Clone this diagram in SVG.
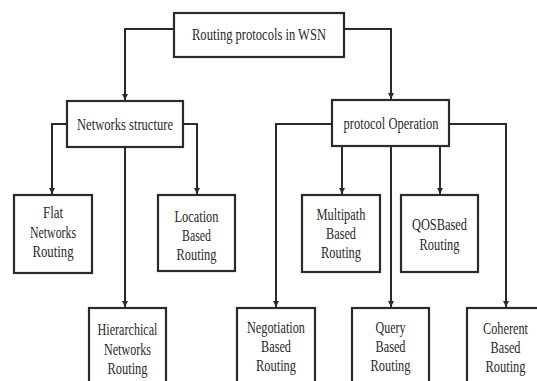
<svg xmlns="http://www.w3.org/2000/svg" width="537" height="381" viewBox="0 0 537 381">
<style>
.box{fill:#fff;stroke:#2a2a2a;stroke-width:2.2}
.lbl{font-family:"Liberation Serif","Times New Roman",serif;font-size:16.5px;fill:#2a2a2a;text-anchor:middle}
.conn path{fill:none;stroke:#2a2a2a;stroke-width:2;marker-end:url(#arr)}
</style>
<defs>
<marker id="arr" viewBox="0 0 10 10" refX="10" refY="5" markerWidth="3" markerHeight="3.5" orient="auto" markerUnits="strokeWidth">
<path d="M0,0 L10,5 L0,10 z" fill="#2a2a2a"/>
</marker>
</defs>
<rect width="537" height="381" fill="#fff"/>
<g class="conn" id="connectors">
<path d="M174,29 H125 V100"/>
<path d="M344,29 H391 V99"/>
<path d="M67,124 H52 V194"/>
<path d="M183,124 H197 V194"/>
<path d="M125,147 V307"/>
<path d="M332,124 H276 V307"/>
<path d="M449,124 H506 V307"/>
<path d="M342,146 V194"/>
<path d="M391,146 V307"/>
<path d="M440,146 V194"/>
</g>
<g id="root">
<rect class="box" x="174" y="13" width="170" height="44"/>
<text class="lbl" x="259" y="40" textLength="134" lengthAdjust="spacingAndGlyphs">Routing protocols in WSN</text>
</g>
<g id="networks-structure">
<rect class="box" x="67" y="101" width="116" height="46"/>
<text class="lbl" x="125" y="130" textLength="96" lengthAdjust="spacingAndGlyphs">Networks structure</text>
</g>
<g id="protocol-operation">
<rect class="box" x="332" y="100" width="117" height="46"/>
<text class="lbl" x="391" y="129" textLength="95" lengthAdjust="spacingAndGlyphs">protocol Operation</text>
</g>
<g id="flat">
<rect class="box" x="14" y="195" width="78" height="78"/>
<text class="lbl" x="53" y="218" textLength="20" lengthAdjust="spacingAndGlyphs">Flat</text>
<text class="lbl" x="53" y="238" textLength="46" lengthAdjust="spacingAndGlyphs">Networks</text>
<text class="lbl" x="53" y="257" textLength="41" lengthAdjust="spacingAndGlyphs">Routing</text>
</g>
<g id="location">
<rect class="box" x="158" y="195" width="77" height="76"/>
<text class="lbl" x="196.5" y="222" textLength="44" lengthAdjust="spacingAndGlyphs">Location</text>
<text class="lbl" x="196.5" y="241" textLength="29" lengthAdjust="spacingAndGlyphs">Based</text>
<text class="lbl" x="196.5" y="260" textLength="40" lengthAdjust="spacingAndGlyphs">Routing</text>
</g>
<g id="hierarchical">
<rect class="box" x="89" y="308" width="77" height="82"/>
<text class="lbl" x="127.5" y="335" textLength="60" lengthAdjust="spacingAndGlyphs">Hierarchical</text>
<text class="lbl" x="127.5" y="355" textLength="47" lengthAdjust="spacingAndGlyphs">Networks</text>
<text class="lbl" x="127.5" y="374" textLength="40" lengthAdjust="spacingAndGlyphs">Routing</text>
</g>
<g id="multipath">
<rect class="box" x="302" y="195" width="78" height="77"/>
<text class="lbl" x="341" y="220" textLength="49" lengthAdjust="spacingAndGlyphs">Multipath</text>
<text class="lbl" x="341" y="239" textLength="30" lengthAdjust="spacingAndGlyphs">Based</text>
<text class="lbl" x="341" y="258" textLength="40" lengthAdjust="spacingAndGlyphs">Routing</text>
</g>
<g id="qos">
<rect class="box" x="401" y="195" width="77" height="77"/>
<text class="lbl" x="439.5" y="230" textLength="55" lengthAdjust="spacingAndGlyphs">QOSBased</text>
<text class="lbl" x="439.5" y="250" textLength="40" lengthAdjust="spacingAndGlyphs">Routing</text>
</g>
<g id="negotiation">
<rect class="box" x="237" y="308" width="78" height="82"/>
<text class="lbl" x="276" y="333" textLength="58" lengthAdjust="spacingAndGlyphs">Negotiation</text>
<text class="lbl" x="276" y="352" textLength="30" lengthAdjust="spacingAndGlyphs">Based</text>
<text class="lbl" x="276" y="371" textLength="40" lengthAdjust="spacingAndGlyphs">Routing</text>
</g>
<g id="query">
<rect class="box" x="352" y="308" width="77" height="82"/>
<text class="lbl" x="390.5" y="333" textLength="30" lengthAdjust="spacingAndGlyphs">Query</text>
<text class="lbl" x="390.5" y="352" textLength="30" lengthAdjust="spacingAndGlyphs">Based</text>
<text class="lbl" x="390.5" y="371" textLength="40" lengthAdjust="spacingAndGlyphs">Routing</text>
</g>
<g id="coherent">
<rect class="box" x="467" y="308" width="78" height="82"/>
<text class="lbl" x="505.5" y="334" textLength="45" lengthAdjust="spacingAndGlyphs">Coherent</text>
<text class="lbl" x="505.5" y="353" textLength="30" lengthAdjust="spacingAndGlyphs">Based</text>
<text class="lbl" x="505.5" y="372" textLength="40" lengthAdjust="spacingAndGlyphs">Routing</text>
</g>
</svg>
